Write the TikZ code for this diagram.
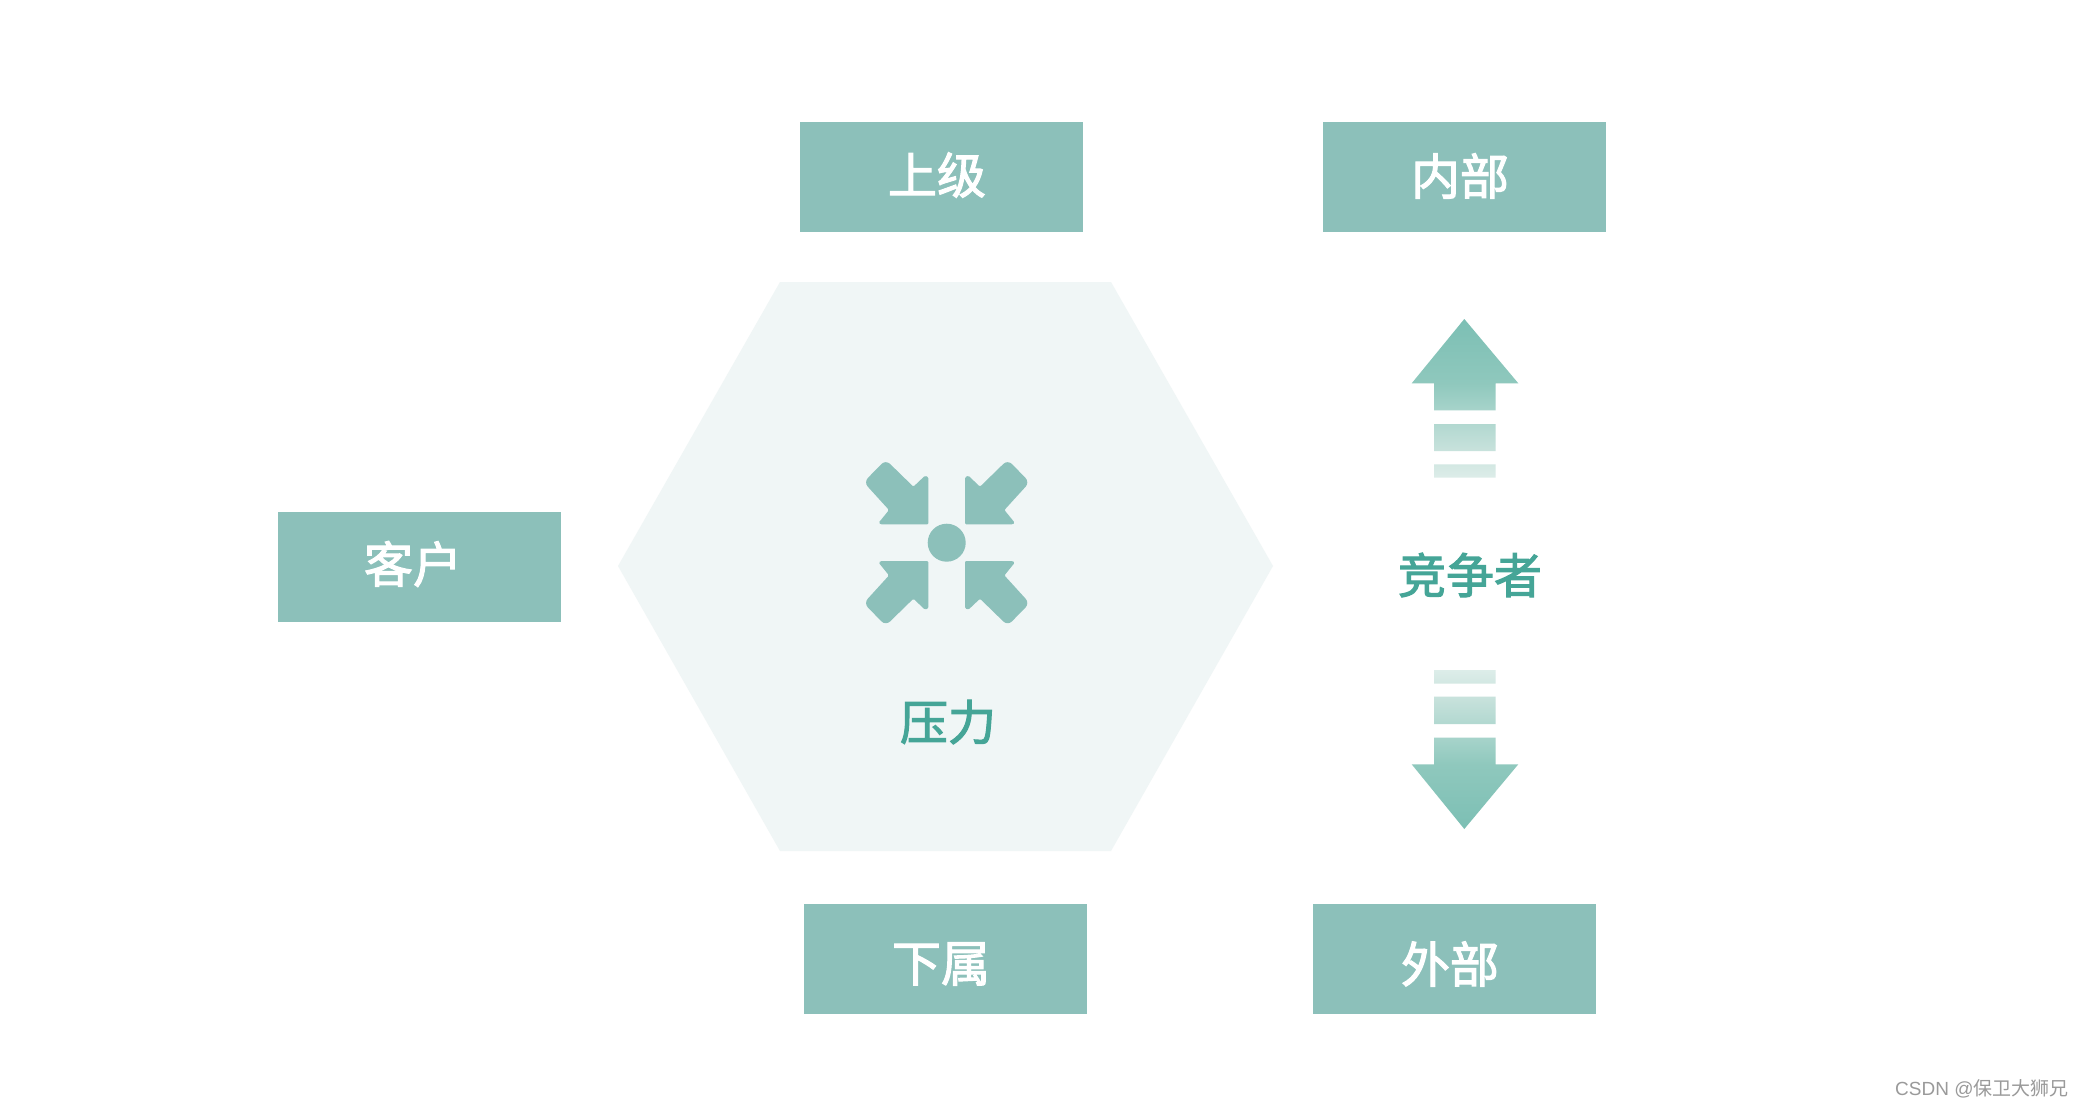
\documentclass[tikz,border=0pt]{standalone}
\usepackage{fontspec}
\setmainfont{Noto Sans CJK SC}
\newfontfamily\medfont[FakeBold=2.2]{Noto Sans CJK SC}
\newfontfamily\wmlatin{Liberation Sans}
\definecolor{boxc}{HTML}{8CC0BA}
\definecolor{hexc}{HTML}{F0F6F6}
\definecolor{titlec}{HTML}{45A597}
\definecolor{wmc}{HTML}{9A9A9A}
\definecolor{fa}{HTML}{7CBFB4}
\definecolor{fb}{HTML}{8FC8BD}
\definecolor{fc}{HTML}{A6D3CA}
\definecolor{fd}{HTML}{C8E2DC}
\definecolor{fe}{HTML}{DDEDE9}
\pgfdeclareverticalshading{fadearrow}{100bp}{color(0bp)=(fe); color(25bp)=(fe); color(33.5bp)=(fd); color(46.5bp)=(fc); color(54.75bp)=(fb); color(75bp)=(fa); color(100bp)=(fa)}
\tikzset{
  x=0.5pt,y=-0.5pt,
  boxnode/.style={fill=boxc,draw=none,minimum width=141.5pt,minimum height=55pt,inner sep=0pt,outer sep=0pt},
  boxtext/.style={text=white,font=\medfont\fontsize{24.5}{26}\selectfont,inner sep=0pt},
  titletext/.style={text=titlec,font=\medfont\fontsize{24}{26}\selectfont,inner sep=0pt},
}
\begin{document}
\begin{tikzpicture}
\useasboundingbox (0,0) rectangle (2084,1108);
\fill[white] (0,0) rectangle (2084,1108);
\fill[hexc] (618,566) -- (780,282) -- (1111,282) -- (1273,566) -- (1111,851) -- (780,851) -- cycle;

\node[boxnode] (shangji) at (941.5,177) {};
\node[boxnode] (neibu) at (1464,177) {};
\node[boxnode] (kehu) at (419,567) {};
\node[boxnode] (xiashu) at (945.5,959) {};
\node[boxnode] (waibu) at (1454.5,959) {};
\node[boxtext] (tshangji) at (937,175) {上级};
\node[boxtext] (tneibu) at (1460,176) {内部};
\node[boxtext] (tkehu) at (413,564) {客户};
\node[boxtext] (txiashu) at (941,964) {下属};
\node[boxtext] (twaibu) at (1450,964) {外部};

% pressure icon
\coordinate (iconc) at (946.7,542.7);
\fill[boxc] (iconc) circle (19);
\foreach \sx/\sy in {1/1,-1/1,1/-1,-1/-1}{
  \begin{scope}[shift={(iconc)},xscale=\sx,yscale=\sy]
    \fill[boxc,rounded corners=0.6pt] (-18.3,-18.3) -- (-18.3,-65.5) -- (-21.7,-67) -- (-33.3,-56) [rounded corners=3pt] -- (-61,-83) -- (-83,-60.5) [rounded corners=0.6pt] -- (-57.7,-32.7) -- (-68,-20) -- (-66,-18.3) -- cycle;
  \end{scope}
}

\node[titletext] (yali) at (948,722) {压力};
\node[titletext] (jingzheng) at (1470,575) {竞争者};

% gradient arrows
\path[shading=fadearrow,draw=none]
  (1464.3,319) -- (1518.3,383.3) -- (1495.7,383.3) -- (1495.7,410.3) -- (1434,410.3) -- (1434,383.3) -- (1411.7,383.3) -- cycle
  (1434,424) rectangle (1495.7,451)
  (1434,464.3) rectangle (1495.7,477.7);
\path[shading=fadearrow,shading angle=180,draw=none]
  (1434,670) rectangle (1495.7,683.7)
  (1434,696.7) rectangle (1495.7,724)
  (1434,737.7) -- (1495.7,737.7) -- (1495.7,764.3) -- (1518.3,764.3) -- (1464.3,829) -- (1411.7,764.3) -- (1434,764.3) -- cycle;

\node[anchor=east,text=wmc,inner sep=0pt,font=\fontsize{9.5}{11}\selectfont] (wm) at (2069,1089) {{\wmlatin CSDN @}保卫大狮兄};
\end{tikzpicture}
\end{document}
